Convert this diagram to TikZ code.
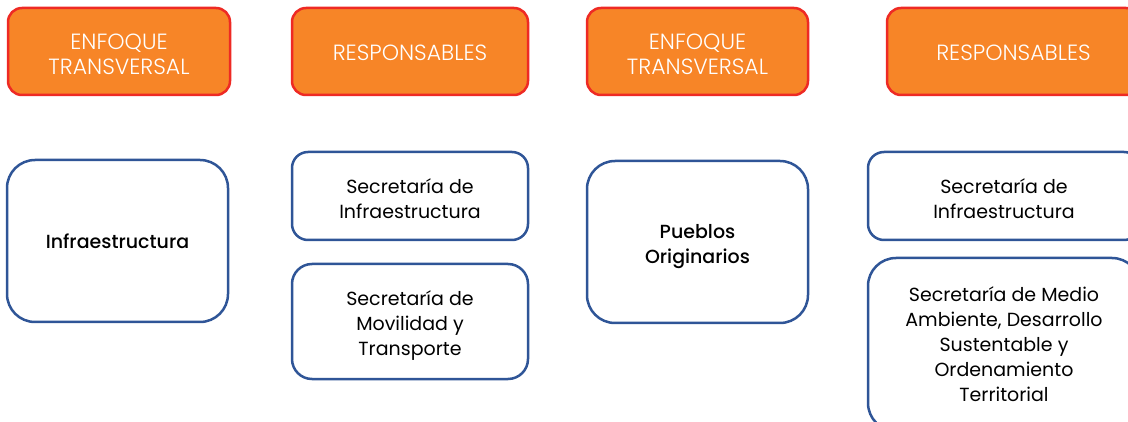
\documentclass[tikz,border=0pt]{standalone}
\usepackage{fontspec}
\setmainfont{Poppins}
\newfontfamily\lightfont{Poppins Light}
\newfontfamily\medfont{Poppins Medium}
\definecolor{orangefill}{HTML}{F78527}
\definecolor{redline}{HTML}{EE2A24}
\definecolor{blueline}{HTML}{2F5597}
\begin{document}
\begin{tikzpicture}[x=1pt,y=-1pt,
  head/.style={draw=redline, fill=orangefill, line width=2.5pt, rounded corners=14pt,
    minimum height=87pt, inner sep=0pt},
  headtext/.style={text=white, font=\lightfont\fontsize{22}{25}\selectfont, align=center, inner sep=0pt},
  body/.style={draw=blueline, line width=2.5pt, fill=white, inner sep=0pt},
  bodytext/.style={text=black, font=\fontsize{19}{25}\selectfont, align=center, inner sep=0pt},
  medtext/.style={bodytext, font=\medfont\fontsize{19}{25}\selectfont}]
\useasboundingbox (0,0) rectangle (1128,422);
\clip (0,0) rectangle (1128,422);
% headers
\node[head, minimum width=222pt,
  label={[headtext, yshift=-3pt]center:{ENFOQUE\\TRANSVERSAL}}] (h1) at (119,51.5) {};
\node[head, minimum width=236pt,
  label={[headtext, yshift=-1pt]center:{RESPONSABLES}}] (h2) at (410,51.5) {};
\node[head, minimum width=221pt,
  label={[headtext, yshift=-3pt]center:{ENFOQUE\\TRANSVERSAL}}] (h3) at (697.5,51.5) {};
\node[head, minimum width=253pt,
  label={[headtext, yshift=-1pt]center:{RESPONSABLES}}] (h4) at (1013.5,51.5) {};
% bodies
\node[body, rounded corners=28pt, minimum width=221pt, minimum height=162pt,
  label={[medtext]center:{Infraestructura}}] (b1) at (117.5,241) {};
\node[body, rounded corners=16pt, minimum width=236pt, minimum height=88pt,
  label={[bodytext, yshift=-3pt]center:{Secretaría de\\Infraestructura}}] (b2) at (410,196) {};
\node[body, rounded corners=20pt, minimum width=236pt, minimum height=115pt,
  label={[bodytext, yshift=-4.5pt]center:{Secretaría de\\Movilidad y\\Transporte}}] (b3) at (410,321.5) {};
\node[body, rounded corners=28pt, minimum width=221pt, minimum height=162pt,
  label={[medtext, yshift=-4.5pt]center:{Pueblos\\Originarios}}] (b4) at (697.5,242) {};
\node[body, rounded corners=16pt, minimum width=272pt, minimum height=88pt,
  label={[bodytext, yshift=-3pt]center:{Secretaría de\\Infraestructura}}] (b5) at (1004,196) {};
\node[body, rounded corners=28pt, minimum width=272pt, minimum height=173pt,
  label={[bodytext]center:{Secretaría de Medio\\Ambiente, Desarrollo\\Sustentable y\\Ordenamiento\\Territorial}}] (b6) at (1004,344.5) {};
\end{tikzpicture}
\end{document}
